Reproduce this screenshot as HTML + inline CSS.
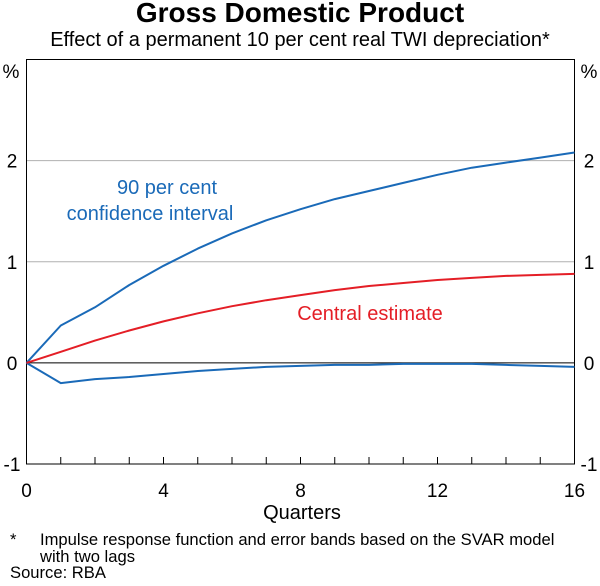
<!DOCTYPE html>
<html><head><meta charset="utf-8"><style>
body{margin:0;background:#fff;font-family:"Liberation Sans",Arial,sans-serif}
svg text{font-family:"Liberation Sans",Arial,sans-serif}
</style></head><body>
<svg width="600" height="581" xmlns="http://www.w3.org/2000/svg" id="chart">
<text x="300" y="22" text-anchor="middle" font-size="28" font-weight="bold">Gross Domestic Product</text>
<text x="300" y="46" text-anchor="middle" font-size="20">Effect of a permanent 10 per cent real TWI depreciation*</text>
<g id="grid"></g>
<rect x="26.5" y="59.5" width="548" height="404.5" fill="none" stroke="#000" stroke-width="1"/>
<g id="ticks"></g>
<g id="series"></g>
<text x="11" y="78" text-anchor="middle" font-size="19">%</text>
<text x="589" y="78" text-anchor="middle" font-size="19">%</text>
<text x="167" y="194" text-anchor="middle" font-size="20" fill="#1a6ab8">90 per cent</text>
<text x="150" y="220" text-anchor="middle" font-size="20" fill="#1a6ab8">confidence interval</text>
<text x="370" y="320" text-anchor="middle" font-size="20" fill="#e41e26">Central estimate</text>
<text x="302" y="519" text-anchor="middle" font-size="20">Quarters</text>
<text x="10" y="545" font-size="16.6">*</text>
<text x="40" y="545" font-size="16.6">Impulse response function and error bands based on the SVAR model</text>
<text x="40" y="562" font-size="16.6">with two lags</text>
<text x="10" y="578" font-size="16.6">Source: RBA</text>
</svg>
<script>
const quarters=[0,1,2,3,4,5,6,7,8,9,10,11,12,13,14,15,16];
const upperBand=[0,0.37,0.55,0.77,0.96,1.13,1.28,1.41,1.52,1.62,1.70,1.78,1.86,1.93,1.98,2.03,2.08];
const centralEstimate=[0,0.11,0.22,0.32,0.41,0.49,0.56,0.62,0.67,0.72,0.76,0.79,0.82,0.84,0.86,0.87,0.88];
const lowerBand=[0,-0.20,-0.16,-0.14,-0.11,-0.08,-0.06,-0.04,-0.03,-0.02,-0.02,-0.01,-0.01,-0.01,-0.02,-0.03,-0.04];
const yTicks=[-1,0,1,2];
const xTickLabels=[0,4,8,12,16];
const NS="http://www.w3.org/2000/svg";
const X0=26.5,X1=574.5,Y0=464,Y1=59.5;
function xs(q){return X0+(q-0)/(16-0)*(X1-X0);}
function ys(v){return Y0-(v+1)/(3+1)*(Y0-Y1);}
function mk(tag,attrs,parent){const e=document.createElementNS(NS,tag);for(const k in attrs)e.setAttribute(k,attrs[k]);parent.appendChild(e);return e;}
const grid=document.getElementById('grid'),ticks=document.getElementById('ticks'),series=document.getElementById('series');
yTicks.forEach(v=>{
  const y=ys(v);
  if(v>0){const l=mk('line',{x1:X0,x2:X1,y1:y,y2:y,stroke:'#b0b0b0','stroke-width':1},grid);
    
    }
  const t1=mk('text',{x:12,y:y+7,'text-anchor':'middle','font-size':19},ticks);t1.textContent=v;
  
  
  const t2=mk('text',{x:589,y:y+7,'text-anchor':'middle','font-size':19},ticks);t2.textContent=v;
  
  
});
const zl=mk('line',{x1:X0,x2:X1,y1:ys(0),y2:ys(0),stroke:'#000','stroke-width':1},grid);


quarters.forEach(q=>{
  if(q>0&&q<16){const t=mk('line',{x1:xs(q),x2:xs(q),y1:Y0,y2:Y0-7,stroke:'#000','stroke-width':1},ticks);
    
    }
});
xTickLabels.forEach(q=>{
  const t=mk('text',{x:xs(q),y:Y0+33,'text-anchor':'middle','font-size':19},ticks);t.textContent=q;
  
  
});
function line(vals,color,name){
  const d=vals.map((v,i)=>(i?'L':'M')+xs(quarters[i]).toFixed(1)+' '+ys(v).toFixed(1)).join(' ');
  const p=mk('path',{d:d,fill:'none',stroke:color,'stroke-width':2,'stroke-linejoin':'round'},series);
  
  
}
line(lowerBand,'#1a6ab8','lower-band-line');
line(upperBand,'#1a6ab8','upper-band-line');
line(centralEstimate,'#e41e26','central-estimate-line');
</script>
</body></html>
